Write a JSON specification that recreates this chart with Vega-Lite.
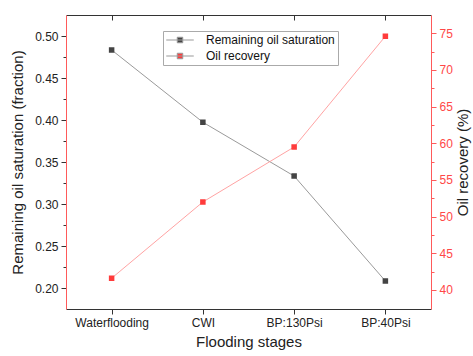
{
  "$schema": "https://vega.github.io/schema/vega-lite/v6.json",
  "width": 365,
  "height": 294,
  "autosize": {"type": "none"},
  "padding": {"left": 66, "top": 15, "right": 42, "bottom": 47},
  "background": "white",
  "config": {
    "view": {"stroke": null},
    "font": "Liberation Sans",
    "axis": {"labelFont": "Liberation Sans", "titleFont": "Liberation Sans", "titleFontWeight": "normal", "grid": false}
  },
  "data": {
    "values": [
      {"stage": "Waterflooding", "saturation": 0.4834, "recovery": 41.6},
      {"stage": "CWI", "saturation": 0.3975, "recovery": 52.0},
      {"stage": "BP:130Psi", "saturation": 0.3335, "recovery": 59.5},
      {"stage": "BP:40Psi", "saturation": 0.2087, "recovery": 74.6}
    ]
  },
  "layer": [
    {
      "encoding": {
        "x": {
          "field": "stage", "type": "ordinal", "sort": null,
          "scale": {"type": "point", "padding": 0.5},
          "axis": {
            "orient": "bottom", "title": "Flooding stages", "labelAngle": 0,
            "labelFontSize": 12, "labelColor": "#222", "titleFontSize": 15, "titleColor": "#222",
            "domainColor": "#333", "tickColor": "#333", "tickSize": 5, "labelPadding": 3, "titlePadding": 6
          }
        },
        "y": {
          "field": "saturation", "type": "quantitative",
          "scale": {"domain": [0.1754, 0.525], "nice": false, "zero": false},
          "axis": {
            "title": "Remaining oil saturation (fraction)",
            "values": [0.2, 0.225, 0.25, 0.275, 0.3, 0.325, 0.35, 0.375, 0.4, 0.425, 0.45, 0.475, 0.5],
            "labelExpr": "abs(datum.value*20 - round(datum.value*20)) < 0.01 ? format(datum.value, '.2f') : ''",
            "tickSize": {"condition": {"test": "abs(datum.value*20 - round(datum.value*20)) < 0.01", "value": 5}, "value": 3},
            "labelFontSize": 12, "labelColor": "#222", "titleFontSize": 15, "titleColor": "#222",
            "domainColor": "#ff5a5a", "tickColor": "#333", "labelPadding": 3, "titlePadding": 9
          }
        }
      },
      "layer": [
        {"mark": {"type": "line", "color": "#9a9a9a", "strokeWidth": 1}},
        {
          "mark": {"type": "point", "shape": "M-2.5,0H2.5M-0.5,-0.5H0.5V0.5H-0.5Z", "filled": true, "size": 121, "opacity": 1},
          "encoding": {
            "color": {
              "datum": "Remaining oil saturation", "type": "nominal",
              "scale": {"domain": ["Remaining oil saturation", "Oil recovery"], "range": ["#444444", "#ff3b3b"]},
              "legend": {
                "title": null, "orient": "none", "legendX": 97, "legendY": 16,
                "strokeColor": "#aaaaaa", "padding": 3,
                "labelFontSize": 12, "labelColor": "#111", "labelFont": "Liberation Sans",
                "symbolSize": 121, "symbolStrokeWidth": 1, "symbolStrokeColor": "#999999",
                "symbolOffset": 8,
                "rowPadding": 4, "labelOffset": 20
              }
            }
          }
        }
      ]
    },
    {
      "encoding": {
        "x": {
          "field": "stage", "type": "ordinal", "sort": null,
          "scale": {"type": "point", "padding": 0.5},
          "axis": {
            "orient": "top", "title": null, "labels": false,
            "domainColor": "#333", "tickColor": "#333", "tickSize": -5
          }
        },
        "y": {
          "field": "recovery", "type": "quantitative",
          "scale": {"domain": [37.4, 77.5], "nice": false, "zero": false},
          "axis": {
            "orient": "right",
            "title": "Oil recovery (%)", "titleAngle": 270,
            "values": [40, 42.5, 45, 47.5, 50, 52.5, 55, 57.5, 60, 62.5, 65, 67.5, 70, 72.5, 75],
            "labelExpr": "datum.value % 5 == 0 ? format(datum.value, 'd') : ''",
            "tickSize": {"condition": {"test": "datum.value % 5 == 0", "value": 5}, "value": 3},
            "labelFontSize": 12, "labelColor": "#ff4747", "titleFontSize": 15, "titleColor": "#222",
            "domainColor": "#ff5a5a", "tickColor": "#ff5a5a", "labelPadding": 3, "titlePadding": 18
          }
        }
      },
      "layer": [
        {"mark": {"type": "line", "color": "#ffa3a3", "strokeWidth": 1}},
        {
          "mark": {"type": "point", "shape": "M-2.5,0H2.5M-0.5,-0.5H0.5V0.5H-0.5Z", "filled": true, "size": 121, "opacity": 1},
          "encoding": {
            "color": {"datum": "Oil recovery", "type": "nominal", "legend": null}
          }
        }
      ]
    }
  ],
  "resolve": {"scale": {"y": "independent"}, "axis": {"x": "independent", "y": "independent"}, "legend": {"color": "independent"}}
}
